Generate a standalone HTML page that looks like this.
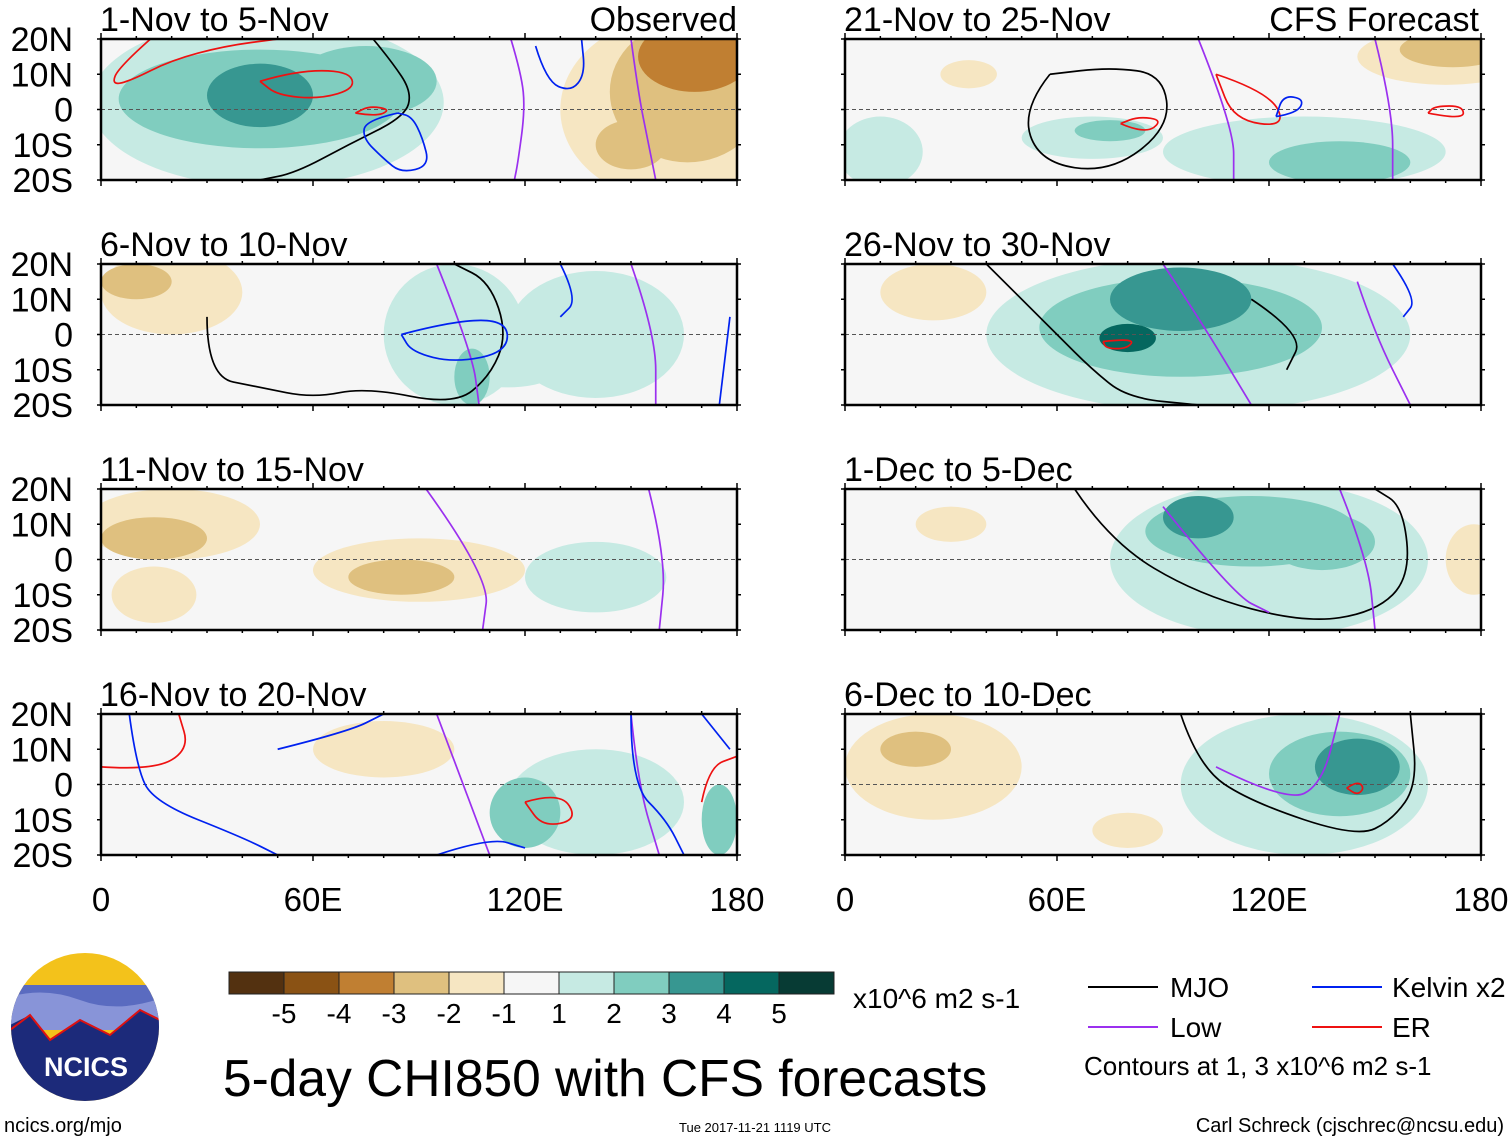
<!DOCTYPE html>
<html><head><meta charset="utf-8"><style>
body{margin:0;background:#fff;}
svg text{font-family:"Liberation Sans",sans-serif;}
</style></head><body>
<svg id="s" width="1510" height="1142" xmlns="http://www.w3.org/2000/svg"></svg>
<script>
// ---- data ----
const panelTitles=["1-Nov to 5-Nov","21-Nov to 25-Nov","6-Nov to 10-Nov","26-Nov to 30-Nov","11-Nov to 15-Nov","1-Dec to 5-Dec","16-Nov to 20-Nov","6-Dec to 10-Dec"];
const latTicks=["20N","10N","0","10S","20S"];
const lonTicks=["0","60E","120E","180"];
const levelLabels=["-5","-4","-3","-2","-1","1","2","3","4","5"];
const levelColors=["#533110","#8a5214","#c07f32","#dfc07f","#f6e6c2","#f6f6f6","#c6eae3","#80cdbf","#379791","#05675f","#073b34"];
// blobs: [panel, lon, lat, rlon, rlat, level]
const blobs=[
[0,47,2,50,24,1],[0,45,3,40,14,2],[0,75,8,20,10,2],[0,45,4,15,9,3],
[0,162,0,32,26,-1],[0,166,5,22,20,-2],[0,168,15,16,10,-3],[0,150,-10,10,7,-2],
[1,70,-8,20,6,1],[1,130,-12,40,10,1],[1,140,-15,20,6,2],[1,10,-12,12,10,1],[1,75,-6,10,3,2],
[1,170,15,25,8,-1],[1,172,17,15,5,-2],[1,35,10,8,4,-1],
[2,100,0,20,20,1],[2,115,-5,20,10,1],[2,140,0,25,18,1],[2,105,-12,5,8,2],
[2,20,12,20,12,-1],[2,10,15,10,5,-2],
[3,100,0,60,22,1],[3,95,2,40,14,2],[3,95,10,20,9,3],[3,80,-1,8,4,4],[3,25,12,15,8,-1],
[4,20,10,25,10,-1],[4,15,6,15,6,-2],[4,90,-3,30,9,-1],[4,85,-5,15,5,-2],[4,15,-10,12,8,-1],[4,140,-5,20,10,1],
[5,120,0,45,22,1],[5,115,8,30,10,2],[5,100,12,10,6,3],[5,135,5,15,8,2],[5,178,0,8,10,-1],[5,30,10,10,5,-1],
[6,140,-5,25,15,1],[6,120,-8,10,10,2],[6,175,-10,5,10,2],[6,80,10,20,8,-1],
[7,130,0,35,20,1],[7,140,3,20,12,2],[7,145,5,12,8,3],[7,25,5,25,15,-1],[7,20,10,10,5,-2],[7,80,-13,10,5,-1]
];
// contours: [panel, type, [lon,lat,...]]
const contours=[
[0,"mjo",[77,20,82,14,88,5,86,-2,70,-10,55,-18,45,-20]],
[0,"low",[116,20,119,10,120,0,118,-15,117,-20]],[0,"low",[150,20,152,5,155,-10,157,-20]],
[0,"kel",[84,-1,75,-3,74,-8,80,-14,85,-18,93,-16,91,-8,88,-2,84,-1]],[0,"kel",[123,18,126,8,133,5,137,10,136,20]],
[0,"er",[45,8,55,11,70,11,72,6,62,3,50,4,45,8]],[0,"er",[72,-1,78,-2,82,0,76,1,72,-1]],[0,"er",[14,20,5,12,3,7,8,8,20,14,35,18,50,20]],
[1,"mjo",[58,10,50,0,55,-15,75,-18,92,-5,90,10,75,12,58,10]],
[1,"low",[100,20,110,-5,110,-20]],[1,"low",[150,20,155,0,155,-20]],
[1,"er",[78,-4,85,-7,90,-3,83,-2,78,-4]],[1,"er",[105,10,120,5,125,-5,110,-3,105,10]],[1,"er",[165,-1,175,-3,175,1,167,1,165,-1]],
[1,"kel",[122,-2,128,-1,130,3,124,4,122,-2]],
[2,"mjo",[30,5,30,-12,45,-15,60,-18,75,-15,100,-20,110,-12,115,0,110,15,100,20]],
[2,"low",[95,20,105,-5,107,-20]],[2,"low",[150,20,157,0,157,-20]],
[2,"kel",[85,0,100,4,115,4,115,-5,100,-8,88,-5,85,0]],[2,"kel",[130,20,135,10,130,5]],[2,"kel",[178,5,175,-20]],
[3,"mjo",[40,20,60,0,70,-10,80,-18,100,-20]],[3,"mjo",[115,10,130,0,125,-10]],
[3,"er",[73,-2,82,-1,80,-4,74,-4,73,-2]],
[3,"low",[90,20,100,5,115,-20]],[3,"low",[145,15,150,0,160,-20]],[3,"kel",[155,20,162,10,158,5]],
[4,"low",[92,20,110,-5,108,-20]],[4,"low",[155,20,160,0,158,-20]],
[5,"mjo",[65,20,75,5,100,-10,130,-18,150,-15,160,-5,158,15,150,20]],
[5,"low",[90,15,110,-10,120,-15]],[5,"low",[140,20,148,0,150,-20]],
[6,"er",[120,-5,130,-2,135,-10,125,-12,120,-5]],[6,"er",[0,5,15,4,25,10,22,20]],[6,"er",[170,-5,172,5,180,8]],
[6,"low",[95,20,110,-20]],[6,"low",[150,20,152,0,158,-20]],
[6,"kel",[8,20,10,5,15,-5,40,-15,50,-20]],[6,"kel",[50,10,70,15,80,20]],[6,"kel",[95,-20,110,-15,120,-18]],[6,"kel",[150,20,150,0,160,-10,165,-20]],[6,"kel",[170,20,178,10]],
[7,"mjo",[95,20,100,5,115,-5,145,-15,155,-10,162,0,160,20]],
[7,"low",[105,5,125,-5,135,0,140,20]],
[7,"er",[142,-1,145,1,147,-1,145,-3,142,-1]]
];
const ctColor={mjo:"#000",low:"#9b30ef",kel:"#0021f0",er:"#ee1111"};
// ---- draw ----
const NS="http://www.w3.org/2000/svg";
const svg=document.getElementById("s");
function mk(t,a,p){const e=document.createElementNS(NS,t);for(const k in a)e.setAttribute(k,a[k]);(p||svg).appendChild(e);return e;}
const colX=[101,845], rowY=[39,264,489,714], PW=636, PH=141;
function px(p,lon){return colX[p%2]+lon/180*PW;}
function py(p,lat){return rowY[Math.floor(p/2)]+(20-lat)/40*PH;}
function lvlColor(l){return levelColors[5+l];}
function smooth(pts){
  if(pts.length<3)return "M"+pts.map(q=>q.join(",")).join(" L");
  let d="M"+pts[0].join(",");
  for(let i=1;i<pts.length-1;i++){
    const mx=(pts[i][0]+pts[i+1][0])/2,my=(pts[i][1]+pts[i+1][1])/2;
    d+=" Q"+pts[i].join(",")+" "+mx+","+my;
  }
  d+=" L"+pts[pts.length-1].join(",");return d;
}
const defs=mk("defs",{});
for(let p=0;p<8;p++){
  const cp=mk("clipPath",{id:"c"+p},defs);
  mk("rect",{x:px(p,0),y:py(p,20),width:PW,height:PH},cp);
}
for(let p=0;p<8;p++){
  const g=mk("g",{"clip-path":"url(#c"+p+")"});
  
  
  mk("rect",{x:px(p,0),y:py(p,20),width:PW,height:PH,fill:"#f6f6f6"},g);
  const bl=blobs.filter(b=>b[0]===p).sort((a,b)=>Math.abs(a[5])-Math.abs(b[5]));
  bl.forEach(b=>{
    const e=mk("ellipse",{cx:px(p,b[1]),cy:py(p,b[2]),rx:b[3]/180*PW,ry:b[4]/40*PH,fill:lvlColor(b[5])},g);
    
    
  });
  mk("line",{x1:px(p,0),x2:px(p,180),y1:py(p,0),y2:py(p,0),stroke:"#555","stroke-dasharray":"4,3","stroke-width":1},g);
  contours.filter(c=>c[0]===p).forEach(c=>{
    let pts=[];for(let i=0;i<c[2].length;i+=2)pts.push([px(p,c[2][i]),py(p,c[2][i+1])]);
    const l=mk("path",{d:smooth(pts),fill:"none",stroke:ctColor[c[1]],"stroke-width":1.7,"stroke-linejoin":"round"},g);
    
    
  });
  const fr=mk("rect",{x:px(p,0),y:py(p,20),width:PW,height:PH,fill:"none",stroke:"#000","stroke-width":2.5});
  
  
  for(let lon=0;lon<=180;lon+=10){const x=px(p,lon),L=lon%60===0?6:3;
    mk("line",{x1:x,x2:x,y1:py(p,20)-L,y2:py(p,20),stroke:"#000","stroke-width":1.5});
    mk("line",{x1:x,x2:x,y1:py(p,-20),y2:py(p,-20)+L,stroke:"#000","stroke-width":1.5});}
  for(let lat=-20;lat<=20;lat+=10){const y=py(p,lat);
    mk("line",{x1:px(p,0)-4,x2:px(p,0),y1:y,y2:y,stroke:"#000","stroke-width":1.5});
    mk("line",{x1:px(p,180),x2:px(p,180)+4,y1:y,y2:y,stroke:"#000","stroke-width":1.5});}
  const t=mk("text",{x:px(p,0)-1,y:py(p,20)-8,"font-size":34});t.textContent=panelTitles[p];
  
  
  if(p%2===0){latTicks.forEach((s,i)=>{const tt=mk("text",{x:73,y:py(p,20-i*10)+12,"font-size":34,"text-anchor":"end"});tt.textContent=s;
    
    });}
}
let t=mk("text",{x:737,y:31,"font-size":34,"text-anchor":"end"});t.textContent="Observed";

t=mk("text",{x:1479,y:31,"font-size":34,"text-anchor":"end"});t.textContent="CFS Forecast";

[0,1].forEach(c=>lonTicks.forEach((s,i)=>{const tt=mk("text",{x:colX[c]+i*60/180*PW,y:911,"font-size":33,"text-anchor":"middle"});tt.textContent=s;
  }));
const cb=mk("g",{});

levelColors.forEach((c,i)=>{mk("rect",{x:229+i*55,y:972,width:55,height:22,fill:c,stroke:"#222","stroke-width":1},cb);});
levelLabels.forEach((s,i)=>{const tt=mk("text",{x:284+i*55,y:1023,"font-size":28,"text-anchor":"middle"},cb);tt.textContent=s;});
t=mk("text",{x:853,y:1008,"font-size":28});t.textContent="x10^6 m2 s-1";

t=mk("text",{x:223,y:1096,"font-size":51.5});t.textContent="5-day CHI850 with CFS forecasts";

const lg=[["MJO","#000",1088,1170,987],["Low","#9b30ef",1088,1170,1027],["Kelvin x2","#0021f0",1312,1392,987],["ER","#ee1111",1312,1392,1027]];
lg.forEach(l=>{const g=mk("g",{});
  mk("line",{x1:l[2],x2:l[2]+70,y1:l[4],y2:l[4],stroke:l[1],"stroke-width":2},g);
  const tt=mk("text",{x:l[3],y:l[4]+10,"font-size":28},g);tt.textContent=l[0];});
t=mk("text",{x:1084,y:1075,"font-size":26});t.textContent="Contours at 1, 3 x10^6 m2 s-1";

t=mk("text",{x:4,y:1132,"font-size":20});t.textContent="ncics.org/mjo";

t=mk("text",{x:755,y:1132,"font-size":13,"text-anchor":"middle"});t.textContent="Tue 2017-11-21 1119 UTC";

t=mk("text",{x:1504,y:1132,"font-size":20,"text-anchor":"end"});t.textContent="Carl Schreck (cjschrec@ncsu.edu)";

const lo=mk("g",{});
const lc=mk("clipPath",{id:"lc"},defs);mk("circle",{cx:85,cy:1027,r:74},lc);
const lgc=mk("g",{"clip-path":"url(#lc)"},lo);
mk("rect",{x:0,y:950,width:170,height:160,fill:"#f3c21b"},lgc);
mk("rect",{x:0,y:985,width:170,height:40,fill:"#5a6bc0"},lgc);
mk("path",{d:"M0 1000 Q40 985 80 1000 T170 995 L170 1030 L0 1030Z",fill:"#8894d8"},lgc);
mk("path",{d:"M0 1030 L30 1015 L50 1040 L80 1020 L110 1035 L140 1010 L170 1025 L170 1110 L0 1110Z",fill:"#1c2a7a"},lgc);
mk("polyline",{points:"10,1030 30,1015 50,1040 80,1020 110,1035 140,1010 160,1020",fill:"none",stroke:"#d11","stroke-width":2},lgc);
const lt=mk("text",{x:86,y:1076,"font-size":27,"font-weight":"bold",fill:"#fff","text-anchor":"middle"},lo);lt.textContent="NCICS";
</script>
</body></html>
